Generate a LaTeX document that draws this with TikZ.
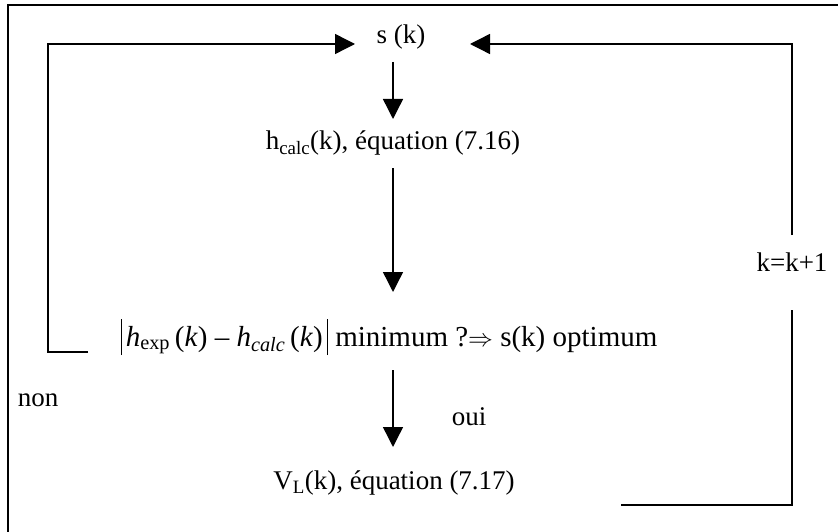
\documentclass[tikz,border=0pt]{standalone}
\usepackage{amsmath}
\usepackage{fontspec}
\setmainfont{Liberation Serif}
\usetikzlibrary{arrows.meta}
\newcommand{\vbar}{\rule[-9pt]{1.2pt}{36pt}}
\begin{document}
\begin{tikzpicture}[x=1pt,y=-1pt,
  line/.style={line width=1.4pt},
  arr/.style={line width=1.4pt,-{Triangle[length=20pt,width=20pt]}},
  lbl/.style={font=\fontsize{27}{32}\selectfont, inner sep=0pt},
  rowlbl/.style={font=\fontsize{29}{34}\selectfont, inner sep=0pt}]
\useasboundingbox (0,0) rectangle (838,532);
% frame
\draw[line width=1.2pt] (8,532) -- (8,5) -- (838,5);
% nodes
\node[lbl] (s) at (401,37) {s (k)};
\node[lbl] (h) at (393,143) {h\textsubscript{calc}(k), équation (7.16)};
\node[rowlbl] (c) at (389,337) {\vbar\kern4pt\textit{h}\textsubscript{exp}\,(\textit{k}) -- \textit{h}\textsubscript{\textit{calc}}\,(\textit{k})\kern4pt\vbar\ minimum ?$\Rightarrow$ s(k) optimum};
\node[lbl] (v) at (394,483) {V\textsubscript{L}(k), équation (7.17)};
\node[lbl] (kk) at (792,262) {k=k+1};
\node[lbl] (non) at (38,400) {non};
\node[lbl] (oui) at (469,417) {oui};
% coordinates
\coordinate (a1s) at (393,62);
\coordinate (a1e) at (393,119);
\coordinate (a2s) at (393,168);
\coordinate (a2e) at (393,292);
\coordinate (a3s) at (393,370);
\coordinate (a3e) at (393,447);
\coordinate (lb) at (88,352);
\coordinate (lt) at (355,44);
\coordinate (rb) at (621,505);
\coordinate (rt) at (470,44);
\coordinate (rk1) at (792,310);
\coordinate (rk2) at (792,235);
% arrows
\draw[arr] (a1s) -- (a1e);
\draw[arr] (a2s) -- (a2e);
\draw[arr] (a3s) -- (a3e);
\draw[arr] (lb) -- (48,352) -- (48,44) -- (lt);
\draw[line] (rb) -- (792,505) -- (rk1);
\draw[arr] (rk2) -- (792,44) -- (rt);
\end{tikzpicture}
\end{document}
